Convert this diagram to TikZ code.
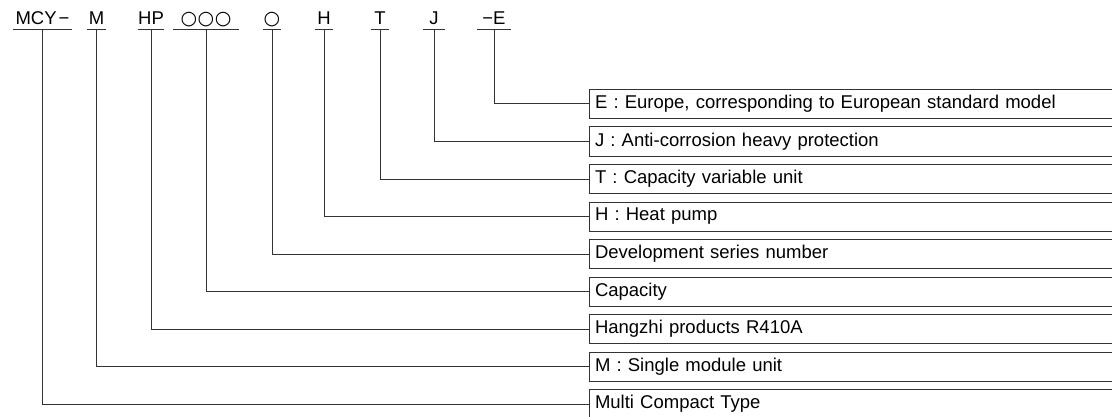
\documentclass[tikz,border=0pt]{standalone}
\usepackage{fontspec}
\setmainfont{Liberation Sans}
\newfontfamily\symf{DejaVu Sans}
\begin{document}
\begin{tikzpicture}[x=1pt,y=1pt,
  lbl/.style={anchor=south, inner xsep=0pt, inner ysep=0pt, text height=13pt, text depth=5pt, font=\fontsize{18.5}{21}\selectfont},
  infobox/.style={draw=black!80, line width=1pt, anchor=north west, minimum height=29pt, text width=540pt, inner xsep=5.5pt, inner ysep=0pt, align=left, font=\fontsize{18.5}{21}\selectfont},
  uline/.style={draw=black!80, line width=1pt},
  conn/.style={draw=black!80, line width=1pt}]
\useasboundingbox (0,0) rectangle (1112,416);
% top labels
\node[lbl, minimum width=59pt] (l9) at (42.5,386) {MCY\hspace{2pt}−};
\node[lbl, minimum width=19pt] (l8) at (96.5,386) {M};
\node[lbl, minimum width=18pt] (l7) at (151,386) {HP};
\node[lbl, minimum width=65pt] (l6) at (206,386) {\symf\fontsize{19}{22}\selectfont ○\hspace{0.5pt}○\hspace{0.5pt}○};
\node[lbl, minimum width=18pt] (l5) at (272,386) {\symf\fontsize{19}{22}\selectfont ○};
\node[lbl, minimum width=18pt] (l4) at (324,386) {H};
\node[lbl, minimum width=18pt] (l3) at (380,386) {T};
\node[lbl, minimum width=22pt] (l2) at (434,386) {J};
\node[lbl, minimum width=33pt] (l1) at (494,386) {−E};
\foreach \n in {l1,l2,l3,l4,l5,l6,l7,l8,l9}
  \draw[uline] (\n.south west) -- (\n.south east);
% boxes
\node[infobox] (b1) at (589,327.0) {E : Europe, corresponding to European standard model};
\node[infobox] (b2) at (589,289.5) {J : Anti-corrosion heavy protection};
\node[infobox] (b3) at (589,252.0) {T : Capacity variable unit};
\node[infobox] (b4) at (589,214.5) {H : Heat pump};
\node[infobox] (b5) at (589,177.0) {Development series number};
\node[infobox] (b6) at (589,139.5) {Capacity};
\node[infobox] (b7) at (589,102.0) {Hangzhi products R410A};
\node[infobox] (b8) at (589,64.5) {M : Single module unit};
\node[infobox] (b9) at (589,27.0) {Multi Compact Type};
% connectors
\foreach \i in {1,...,9}
  \draw[conn] (l\i.south) |- (b\i.west);
\end{tikzpicture}
\end{document}
